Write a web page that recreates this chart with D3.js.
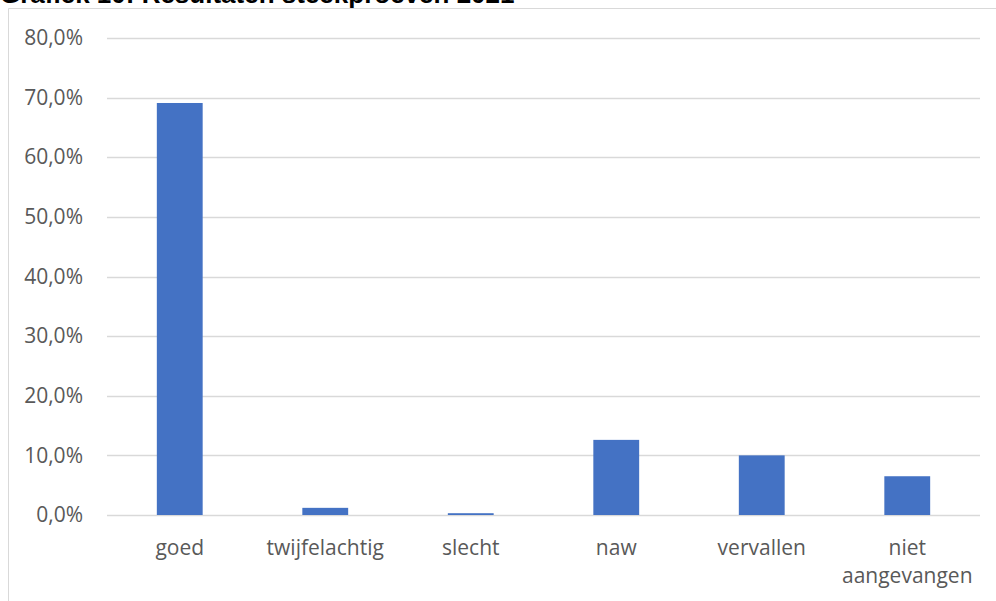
<!DOCTYPE html>
<html>
<head>
<meta charset="utf-8">
<script src="https://cdn.jsdelivr.net/npm/d3@7"></script>
<style>
  body { margin: 0; background: #fff; }
  svg { display: block; }
  .tick text { fill: #595959; font-family: "Open Sans", sans-serif; font-size: 21px; }
</style>
</head>
<body>
<div id="chart"></div>
<script>
const categories = ['goed', 'twijfelachtig', 'slecht', 'naw', 'vervallen', 'niet aangevangen'];
const values = [69.1, 1.2, 0.3, 12.6, 10.0, 6.5];
const yTicks = [0, 10, 20, 30, 40, 50, 60, 70, 80];

const width = 996, height = 601;
const margin = { left: 107, right: 16, top: 38, bottom: 86 };

const svg = d3.select('#chart').append('svg')
  .attr('width', width)
  .attr('height', height);

// title, cut off at the top like in the original
svg.append('text')
  .attr('x', 0)
  .attr('y', 3)
  .attr('font-family', 'Liberation Sans, Arial, sans-serif')
  .attr('font-weight', 'bold')
  .attr('font-size', 26)
  .attr('fill', '#000')
  .text('Grafiek 10: Resultaten steekproeven 2021');

// chart area border (left + top only visible)
svg.append('path')
  .attr('d', `M8.5,${height} V8.5 H${width}`)
  .attr('fill', 'none')
  .attr('stroke', '#d9d9d9')
  .attr('stroke-width', 1);

const x = d3.scaleBand()
  .domain(categories)
  .range([margin.left, width - margin.right])
  .paddingInner(0.685)
  .paddingOuter(0.3425);

const y = d3.scaleLinear()
  .domain([0, 80])
  .range([height - margin.bottom, margin.top]);

// gridlines
svg.append('g')
  .selectAll('line')
  .data(yTicks)
  .join('line')
    .attr('x1', margin.left)
    .attr('x2', width - margin.right)
    .attr('y1', d => Math.round(y(d)) + 0.5)
    .attr('y2', d => Math.round(y(d)) + 0.5)
    .attr('stroke', '#d9d9d9')
    .attr('stroke-width', 1.3);

// y axis labels
const yAxis = d3.axisLeft(y)
  .tickValues(yTicks)
  .tickSize(0)
  .tickPadding(24)
  .tickFormat(d => d3.format('.1f')(d).replace('.', ',') + '%');

svg.append('g')
  .attr('transform', `translate(${margin.left},0)`)
  .call(yAxis)
  .call(g => g.select('.domain').remove());

// bars
svg.append('g')
  .selectAll('rect')
  .data(values)
  .join('rect')
    .attr('x', (d, i) => x(categories[i]))
    .attr('y', d => y(d))
    .attr('width', x.bandwidth())
    .attr('height', d => y(0) - y(d))
    .attr('fill', '#4472c4');

// x axis labels
const xAxis = d3.axisBottom(x).tickSize(0).tickPadding(0);
const gx = svg.append('g')
  .attr('transform', `translate(0,${y(0)})`)
  .call(xAxis)
  .call(g => g.select('.domain').remove());

gx.selectAll('.tick text')
  .attr('dy', null)
  .attr('y', 0)
  .each(function(d) {
    const t = d3.select(this);
    const words = d === 'niet aangevangen' ? ['niet', 'aangevangen'] : [d];
    t.text(null);
    words.forEach((w, i) => {
      t.append('tspan')
        .attr('x', 0)
        .attr('y', 40 + i * 28)
        .text(w);
    });
  });
</script>
</body>
</html>
